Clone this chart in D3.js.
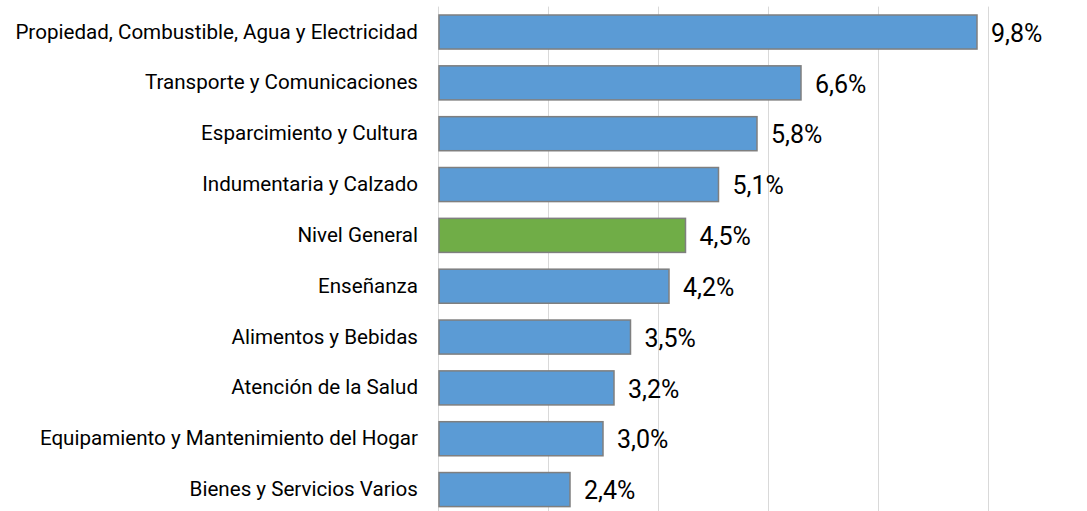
<!DOCTYPE html>
<html>
<head>
<meta charset="utf-8">
<script src="https://cdn.jsdelivr.net/npm/d3@7"></script>
<style>
  body { margin: 0; background: #fff; }
  svg { display: block; }
  .cat { font-family: Roboto, "Liberation Sans", sans-serif; font-size: 20.6px; fill: #000; }
  .val { font-family: Roboto, "Liberation Sans", sans-serif; font-size: 25px; fill: #000; }
</style>
</head>
<body>
<div id="chart"></div>
<script>
// categories top to bottom
const categories = [
  "Propiedad, Combustible, Agua y Electricidad",
  "Transporte y Comunicaciones",
  "Esparcimiento y Cultura",
  "Indumentaria y Calzado",
  "Nivel General",
  "Enseñanza",
  "Alimentos y Bebidas",
  "Atención de la Salud",
  "Equipamiento y Mantenimiento del Hogar",
  "Bienes y Servicios Varios"
];
const values = [9.8, 6.6, 5.8, 5.1, 4.5, 4.2, 3.5, 3.2, 3.0, 2.4];
const gridTicks = [0, 2, 4, 6, 8, 10];
const highlight = "Nivel General";

const W = 1087, H = 511;
const margin = {top: 6.6, right: 99, bottom: -4, left: 438};
const width = W - margin.left - margin.right,
  height = H - margin.top - margin.bottom;

const svg = d3.select("#chart").append("svg")
  .attr("width", W)
  .attr("height", H)
  .append("g")
  .attr("transform", "translate(" + margin.left + "," + margin.top + ")");

const x = d3.scaleLinear().domain([0, 10]).range([0, 550]);
const y = d3.scaleBand().domain(categories).range([0, height]).paddingInner(0.33).paddingOuter(0.165);

// vertical gridlines
svg.append("g").selectAll("line")
  .data(gridTicks)
  .enter().append("line")
  .attr("x1", d => Math.round(x(d)) + 0.5)
  .attr("x2", d => Math.round(x(d)) + 0.5)
  .attr("y1", 0)
  .attr("y2", height)
  .attr("stroke", "#d9d9d9")
  .attr("stroke-width", 1);

// bars
svg.append("g").selectAll("rect")
  .data(categories)
  .enter().append("rect")
  .attr("x", x(0) + 1)
  .attr("y", d => y(d))
  .attr("width", (d, i) => x(values[i]) - x(0) - 1)
  .attr("height", y.bandwidth())
  .attr("fill", d => d === highlight ? "#70AD47" : "#5B9BD5")
  .attr("stroke", "#7f7f7f")
  .attr("stroke-width", 1.5);

// value labels
svg.append("g").selectAll("text")
  .data(categories)
  .enter().append("text")
  .attr("class", "val")
  .attr("x", (d, i) => x(values[i]) + 14)
  .attr("y", d => y(d) + y.bandwidth() / 2 + 1)
  .attr("dy", "0.35em")
  .text((d, i) => values[i].toFixed(1).replace(".", ",") + "%");

// category labels
const yAxis = d3.axisLeft(y).tickSize(0).tickPadding(20);
svg.append("g")
  .call(yAxis)
  .call(g => g.select(".domain").remove())
  .selectAll("text")
  .attr("class", "cat")
  .attr("fill", null)
  .attr("font-size", null)
  .attr("font-family", null);
</script>
</body>
</html>
